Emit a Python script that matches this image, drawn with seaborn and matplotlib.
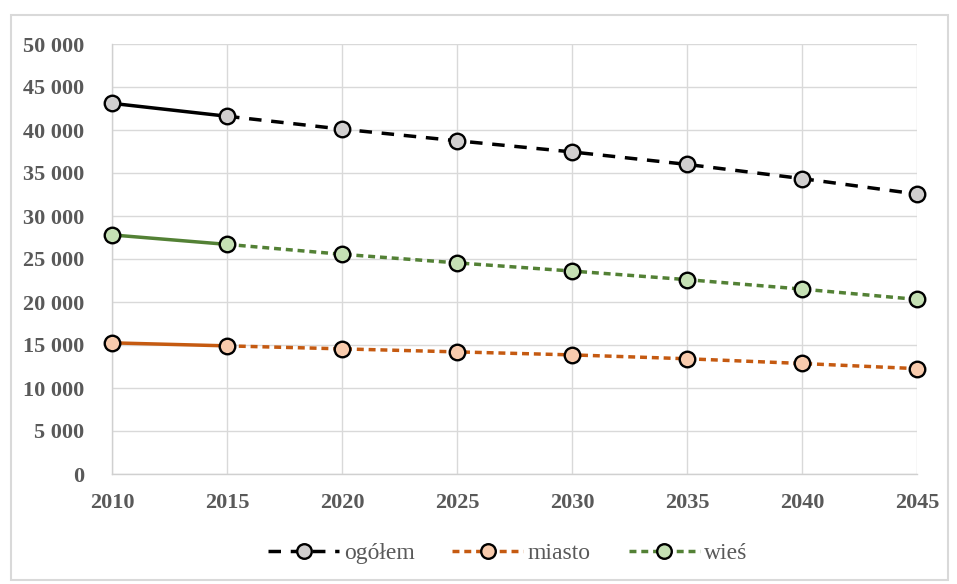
import matplotlib
matplotlib.use("Agg")
import matplotlib.pyplot as plt
import seaborn as sns
import pandas as pd
from matplotlib.lines import Line2D
from matplotlib.patches import Rectangle

years = [2010, 2015, 2020, 2025, 2030, 2035, 2040, 2045]
ogolem = [43100, 41600, 40100, 38750, 37450, 36000, 34350, 32550]
miasto = [15250, 14900, 14550, 14200, 13850, 13400, 12850, 12250]
wies = [27800, 26700, 25550, 24550, 23600, 22600, 21500, 20300]
series_names = ["ogółem", "miasto", "wieś"]
y_ticks = [0, 5000, 10000, 15000, 20000, 25000, 30000, 35000, 40000, 45000, 50000]

sns.set_theme(style="white")
plt.rcParams['font.family'] = ['Liberation Serif', 'DejaVu Serif']

fig = plt.figure(figsize=(9.57, 5.84), dpi=100)
ax = fig.add_axes([112/957, 1-474/584, (917-112)/957, (474-44)/584])

fig.patches.append(Rectangle((11/957, 4/584), 937/957, 565/584, transform=fig.transFigure,
                             fill=False, edgecolor="#D9D9D9", linewidth=1.5))

styles = {
    "ogółem": dict(color="black", fill="#D0CECE", dash=(3.6, 2.8)),
    "miasto": dict(color="#C55A11", fill="#F8CBAD", dash=(2.0, 1.4)),
    "wieś": dict(color="#538135", fill="#C5E0B4", dash=(2.0, 1.4)),
}
data = {"ogółem": ogolem, "miasto": miasto, "wieś": wies}

for name in series_names:
    df = pd.DataFrame({"year": years, "value": data[name]})
    st = styles[name]
    sns.lineplot(data=df.iloc[:2], x="year", y="value", ax=ax, color=st["color"],
                 linewidth=2.5, zorder=3)
    l = sns.lineplot(data=df.iloc[1:], x="year", y="value", ax=ax, color=st["color"],
                     linewidth=2.5, zorder=3)
    l.lines[-1].set_dashes(st["dash"])
    sc = sns.scatterplot(data=df, x="year", y="value", ax=ax, color=st["fill"],
                         edgecolor="black", linewidth=1.7, s=125, zorder=4)
    sc.collections[-1].set_clip_on(False)

ax.set_xlim(2010, 2045)
ax.set_ylim(0, 50000)
ax.set_xticks(years)
ax.set_yticks(y_ticks)
ax.set_yticklabels([f"{v:,}".replace(",", " ") for v in y_ticks])
ax.set_xlabel("")
ax.set_ylabel("")
ax.grid(True, color="#D9D9D9", linewidth=1)
ax.set_axisbelow(True)
for s in ["top", "right"]:
    ax.spines[s].set_visible(False)
for s in ["left", "bottom"]:
    ax.spines[s].set_color("#D0D0D0")
    ax.spines[s].set_linewidth(1)
ax.tick_params(axis="both", length=0, labelsize=16, labelcolor="#595959")
ax.tick_params(axis="x", pad=14)
ax.tick_params(axis="y", pad=20)
for lab in ax.get_xticklabels() + ax.get_yticklabels():
    lab.set_fontweight("bold")

handles = []
for name in series_names:
    st = styles[name]
    h = Line2D([0], [0], color=st["color"], linewidth=2.5, dashes=st["dash"],
               marker="o", markersize=10.5, markerfacecolor=st["fill"],
               markeredgecolor="black", markeredgewidth=1.7)
    handles.append(h)
fig.legend(handles, series_names, loc="center", bbox_to_anchor=(508/957, 1-553/584),
           ncol=3, frameon=False, fontsize=17, labelcolor="#595959",
           handlelength=3.0, columnspacing=1.6, handletextpad=0.2)

fig.savefig("out.png", dpi=100)
